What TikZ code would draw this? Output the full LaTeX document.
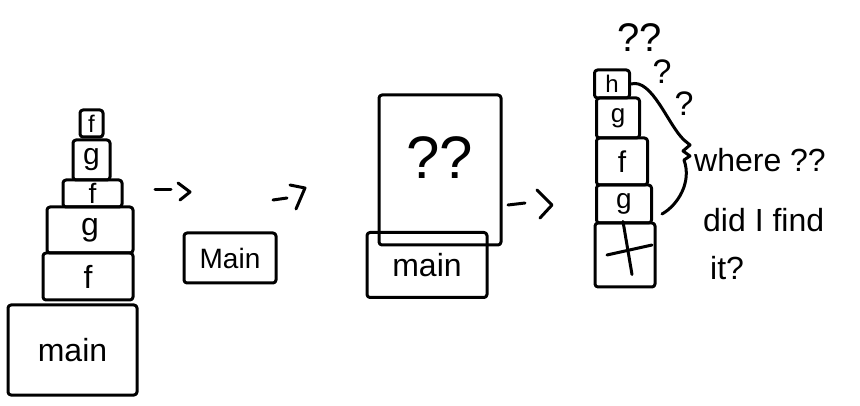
\documentclass[tikz,border=0pt]{standalone}
\usepackage{fontspec}
\setmainfont{Liberation Sans}
\begin{document}
\begin{tikzpicture}[x=1pt,y=-1pt,
  ink/.style={line width=3pt,line join=round,line cap=round},
  frame/.style={ink,draw,rectangle,rounded corners=3pt,inner sep=0pt,anchor=center},
  hand/.style={inner sep=0pt,anchor=center}]
\useasboundingbox[fill=white] (0,0) rectangle (860,406);
% left stack
\node[frame,minimum width=23pt,minimum height=27pt,font=\fontsize{24}{24}\selectfont] (lf1) at (91.5,123.5) {f};
\node[frame,minimum width=37pt,minimum height=40pt,font=\fontsize{30}{30}\selectfont] (lg1) at (91.5,160) {g};
\node[frame,minimum width=59pt,minimum height=27pt,font=\fontsize{28}{28}\selectfont] (lf2) at (92.5,193.5) {f};
\node[frame,minimum width=86pt,minimum height=46pt,font=\fontsize{32}{32}\selectfont] (lg2) at (90,230) {g};
\node[frame,minimum width=90pt,minimum height=47pt,font=\fontsize{32}{32}\selectfont] (lf3) at (88,276.5) {f};
\node[frame,minimum width=129pt,minimum height=90pt,font=\fontsize{32}{32}\selectfont] (lmain) at (72.5,350) {main};
% arrows 1, 2
\coordinate (a1s) at (155,190); \coordinate (a1e) at (171,190);
\draw[ink] (a1s) -- (a1e);
\draw[ink] (178,183) -- (190,192) -- (180,200);
\coordinate (a2s) at (273,200); \coordinate (a2e) at (287,198);
\draw[ink] (a2s) -- (a2e);
\draw[ink] (290,185) -- (305,188) -- (296,209);
% middle main
\node[frame,minimum width=92pt,minimum height=50pt,font=\fontsize{28}{28}\selectfont] (mmain) at (230,258) {Main};
% big unknown frame
\node[frame,minimum width=122pt,minimum height=150pt] (qbox) at (440,170) {};
\node[hand,font=\fontsize{60}{60}\selectfont] (qq) at (440,158) {??};
\node[frame,minimum width=120pt,minimum height=65pt,font=\fontsize{32}{32}\selectfont] (qmain) at (427,265) {main};
% arrow 3
\coordinate (a3s) at (508,205); \coordinate (a3e) at (525,203);
\draw[ink] (a3s) -- (a3e);
\draw[ink] (537,190) -- (552,205) -- (540,218);
% right stack
\node[frame,minimum width=35pt,minimum height=28pt,font=\fontsize{24}{24}\selectfont] (rh) at (612,84) {h};
\node[frame,minimum width=43pt,minimum height=40pt,font=\fontsize{26}{26}\selectfont] (rg1) at (618,118) {g};
\node[frame,minimum width=51pt,minimum height=47pt,font=\fontsize{30}{30}\selectfont] (rf) at (622,161.5) {f};
\node[frame,minimum width=55pt,minimum height=38pt,font=\fontsize{28}{28}\selectfont] (rg2) at (624,204) {g};
\node[frame,minimum width=60pt,minimum height=64pt] (rb) at (625,255) {};
\draw[ink] ([xshift=-2pt]rb.north) -- ([xshift=7pt,yshift=14pt]rb.south);
\draw[ink] ([xshift=-18pt]rb.center) -- ([xshift=27pt,yshift=10pt]rb.center);
% brace
\coordinate (btip) at (683,151);
\draw[ink] (rh.east) .. controls (652,78) and (668,125) .. (684,140)
  -- (690,145) -- (btip) -- (690,156) -- (684,160)
  .. controls (692,182) and (678,205) .. (662,214);
% question marks
\node[hand,font=\fontsize{40}{40}\selectfont] (q1) at (640,38) {??};
\node[hand,font=\fontsize{34}{34}\selectfont] (q2) at (662,72) {?};
\node[hand,font=\fontsize{34}{34}\selectfont] (q3) at (684,104) {?};
% text
\node[hand,anchor=west,font=\fontsize{32}{32}\selectfont] (t1) at (694,160) {where ??};
\node[hand,anchor=west,font=\fontsize{32}{32}\selectfont] (t2) at (703,220) {did I find};
\node[hand,anchor=west,font=\fontsize{32}{32}\selectfont] (t3) at (710,268) {it?};
\end{tikzpicture}
\end{document}
